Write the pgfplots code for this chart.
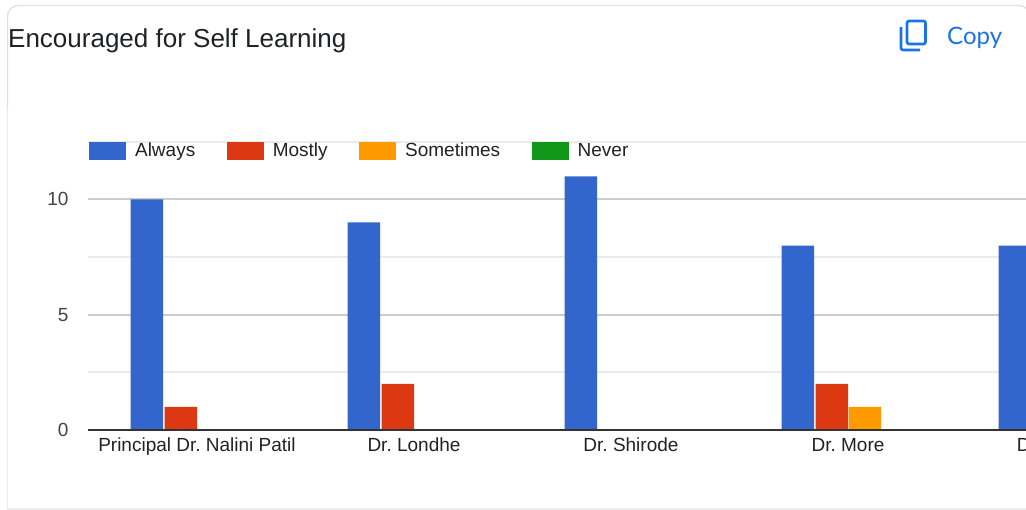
\documentclass[border=0pt]{standalone}
\usepackage{fontspec}
\setmainfont{Liberation Sans}
\newfontfamily\copyfont{Lato}
\usepackage{pgfplots}
\pgfplotsset{compat=1.18}
\definecolor{cAlways}{HTML}{3366CC}
\definecolor{cMostly}{HTML}{DC3912}
\definecolor{cSometimes}{HTML}{FF9900}
\definecolor{cNever}{HTML}{109618}
\definecolor{gMajor}{HTML}{CCCCCC}
\definecolor{gMinor}{HTML}{EBEBEB}
\definecolor{card}{HTML}{DFE1E5}
\definecolor{blueCopy}{HTML}{1A73E8}
\definecolor{txt}{HTML}{202124}
\definecolor{axt}{HTML}{444444}
\definecolor{lbl}{HTML}{222222}
\definecolor{base}{HTML}{333333}
\begin{document}
\frenchspacing
\begin{tikzpicture}[x=1pt,y=1pt]
\useasboundingbox (0,0) rectangle (1026,510);
\clip (0,0) rectangle (1026,510);
% card
\draw[card,line width=1.4pt,rounded corners=11pt] (7.5,400) -- (7.5,504.5) -- (1030,504.5) -- (1030,300);
\draw[card!60,line width=1.2pt] (7.5,400) -- (7.5,1) -- (1026,1);
\node[anchor=base west,inner sep=0pt,text=txt,font=\fontsize{26}{30}\selectfont] at (8,462) {Encouraged for Self Learning};
\node[anchor=base west,inner sep=0pt,text=blueCopy,font=\copyfont\fontsize{24}{28}\selectfont] at (947,465) {Copy};
\draw[blueCopy,line width=2.6pt,rounded corners=2pt] (907,489) rectangle (925.5,466);
\draw[blueCopy,line width=2.6pt,rounded corners=2pt] (901,483) -- (901,460) -- (920,460);
\begin{axis}[
  at={(88pt,80pt)}, anchor=south west,
  scale only axis, width=1085.5pt, height=288.2pt,
  xmin=-0.5023, xmax=4.5, ymin=0, ymax=12.5,
  axis line style={draw=none},
  ybar, bar width=32.5pt,
  xtick={0,1,2,3,4},
  xticklabels={Principal Dr. Nalini Patil,Dr. Londhe,Dr. Shirode,Dr. More,\makebox[96pt][l]{D}},
  ytick={0,5,10}, minor ytick={2.5,7.5,12.5},
  major tick length=0pt, minor tick length=0pt,
  ymajorgrids, yminorgrids,
  major grid style={gMajor,line width=2pt},
  minor grid style={gMinor,line width=2pt},
  tick label style={font=\fontsize{19}{21}\selectfont},
  yticklabel style={text=axt},
  xticklabel style={text=lbl,text height=13.5pt,text depth=3.5pt,yshift=-4pt},
  /pgf/number format/assume math mode=true,
  y tick label style={xshift=-16pt},
  legend style={at={(0.001,0.968)},anchor=west,draw=none,fill=none,inner sep=0pt,outer sep=0pt,
    font=\fontsize{19}{21}\selectfont\color{lbl},legend columns=4,
    nodes={text height=13.5pt,text depth=3.5pt},
    /tikz/every even column/.style={column sep=29.5pt},
    /tikz/every odd column/.style={column sep=7pt}},
  legend cell align=left,
  legend image code/.code={\fill[#1] (0pt,-9pt) rectangle (37pt,9pt);},
]
\addplot[fill=cAlways,draw=none,bar shift=-50pt] coordinates {(0,10)(1,9)(2,11)(3,8)(4,8)};
\addplot[fill=cMostly,draw=none,bar shift=-16pt] coordinates {(0,1)(1,2)(2,0)(3,2)};
\addplot[fill=cSometimes,draw=none,bar shift=17pt] coordinates {(0,0)(1,0)(2,0)(3,1)};
\addplot[fill=cNever,draw=none,bar shift=50pt] coordinates {(0,0)(1,0)(2,0)(3,0)};
\legend{Always,Mostly,Sometimes,Never}
\end{axis}
\draw[base,line width=2pt] (88,80) -- (1026,80);
\end{tikzpicture}
\end{document}
